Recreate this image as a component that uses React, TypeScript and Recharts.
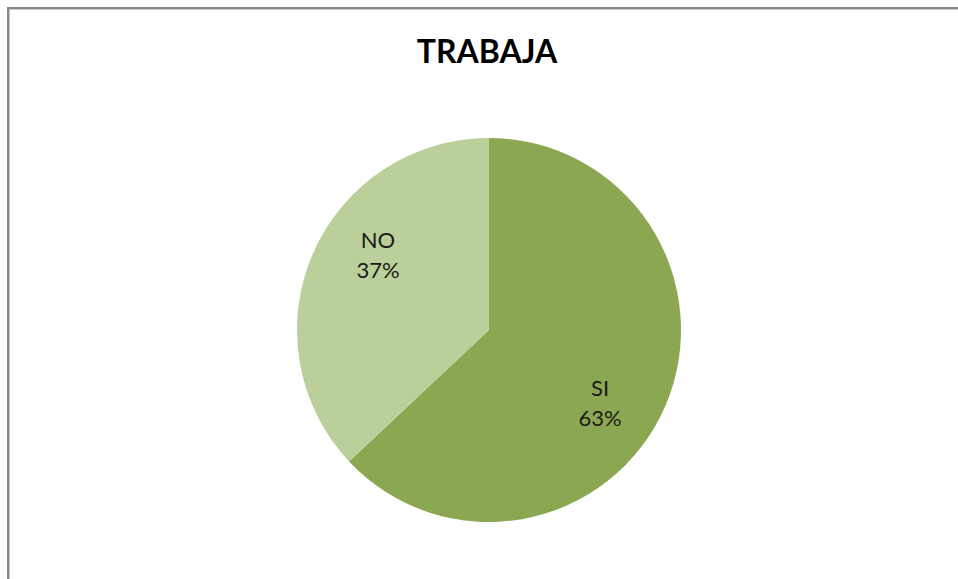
import { Cell, Pie, PieChart } from "recharts";

const categories = ["SI", "NO"];
const values = [63, 37];
const colors = ["#8BA752", "#BACF99"];

const RAD = Math.PI / 180;

const rows = categories.map((name, i) => ({ name, value: values[i] }));

// Excel-style "best fit" inside labels sit a bit further from the horizontal than the mid angle
function renderLabel(props: any) {
  const { cx, cy, midAngle, outerRadius, name, value } = props;
  const r = outerRadius * 0.63;
  const x = cx + r * Math.cos(-midAngle * RAD);
  const y = cy + r * Math.sin(-midAngle * RAD) * 1.55;
  return (
    <text
      x={x}
      y={y}
      textAnchor="middle"
      fill="#1a1a1a"
      fontFamily="Lato, 'Noto Sans', sans-serif"
      fontSize={22}
    >
      <tspan x={x} dy={-8}>{name}</tspan>
      <tspan x={x} dy={30}>{value}%</tspan>
    </text>
  );
}

export default function App() {
  return (
    <div style={{ position: "absolute", left: 0, top: 0, width: 958, height: 579, background: "#fff" }}>
      <div
        style={{
          position: "absolute",
          left: 7,
          top: 7,
          width: 951,
          height: 572,
          borderLeft: "2px solid #868686",
          borderTop: "2px solid #868686",
          boxShadow: "inset 1px 1px 0 #c9c9c9",
        }}
      />
      <div
        style={{
          position: "absolute",
          left: 0,
          top: 31,
          width: 974,
          textAlign: "center",
          fontFamily: "Lato, 'Noto Sans', sans-serif",
          fontWeight: 700,
          fontSize: 32,
          color: "#000",
        }}
      >
        TRABAJA
      </div>
      <div style={{ position: "absolute", left: 0, top: 0 }}>
        <PieChart width={958} height={579} margin={{ top: 0, right: 0, bottom: 0, left: 0 }}>
          <Pie
            data={rows}
            dataKey="value"
            nameKey="name"
            cx={489}
            cy={330}
            outerRadius={192}
            startAngle={90}
            endAngle={-270}
            stroke="none"
            label={renderLabel}
            labelLine={false}
            isAnimationActive={false}
          >
            {rows.map((r, i) => (
              <Cell key={r.name} fill={colors[i]} />
            ))}
          </Pie>
        </PieChart>
      </div>
    </div>
  );
}
